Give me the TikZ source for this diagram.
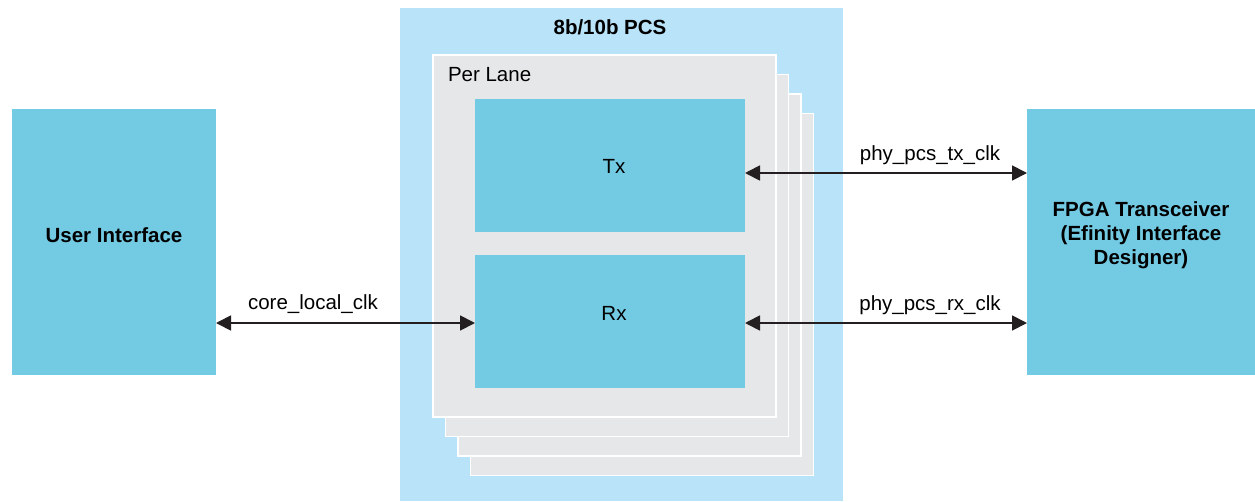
\documentclass[tikz,border=0pt]{standalone}
\usepackage{fontspec}
\setmainfont{Liberation Sans}
\usetikzlibrary{arrows.meta}
\definecolor{pcsblue}{HTML}{B9E3F8}
\definecolor{boxblue}{HTML}{73CAE3}
\definecolor{lanegray}{HTML}{E6E7E8}
\definecolor{arrowdark}{HTML}{231F20}
\begin{document}
\begin{tikzpicture}[x=1pt,y=-1pt,
  every node/.style={font=\fontsize{20.5}{24}\selectfont, inner sep=0pt, outer sep=0pt},
  bluebox/.style={fill=boxblue, draw=none, minimum width=#1},
  lanebox/.style={fill=lanegray, draw=white, line width=1.6pt, minimum width=343pt, minimum height=362pt},
  arr/.style={draw=arrowdark, line width=1.8pt, {Triangle[length=15pt,width=15pt]}-{Triangle[length=15pt,width=15pt]}},
  boldtext/.style={font=\fontsize{20.5}{24}\selectfont\bfseries, align=center}
]
\useasboundingbox (0,0) rectangle (1255,501);
\fill[white] (0,0) rectangle (1255,501);
% PCS background
\node[fill=pcsblue, minimum width=443pt, minimum height=493pt] (pcs) at (621.5,254.5) {};
\node[boldtext] (pcslbl) at (610,27) {8b/10b PCS};
% lanes (back to front)
\node[lanebox] (lane4) at (642,294.5) {};
\node[lanebox] (lane3) at (629.5,275) {};
\node[lanebox] (lane2) at (617,255.5) {};
\node[lanebox] (lane1) at (604.5,236) {};
\node[anchor=west] (perlane) at (448,75) {Per Lane};
% Tx / Rx
\node[bluebox=270pt, minimum height=133pt] (tx) at (610,165.5) {};
\node (txtext) at (614,166) {Tx};
\node[bluebox=270pt, minimum height=133pt] (rx) at (610,321.5) {};
\node (rxtext) at (614,313) {Rx};
% side boxes
\node[bluebox=204pt, minimum height=266pt] (ui) at (114,242) {};
\node[boldtext] (uitext) at (114,235) {User Interface};
\node[bluebox=228pt, minimum height=266pt] (fpga) at (1141,242) {};
\node[boldtext] (fpgatext) at (1141,235) {FPGA Transceiver\\(Efinity Interface\\Designer)};
% connectors
\coordinate (txa) at ([yshift=-7.5pt]tx.east);
\draw[arr] (txa) -- (txa -| fpga.west);
\coordinate (rxa) at ([yshift=-1.5pt]rx.east);
\draw[arr] (rxa) -- (rxa -| fpga.west);
\coordinate (ca) at ([yshift=-1.5pt]rx.west);
\draw[arr] (ca -| ui.east) -- (ca);
% labels
\node (txlbl) at (930,155) {phy\_pcs\_tx\_clk};
\node (rxlbl) at (930,305) {phy\_pcs\_rx\_clk};
\node (clbl) at (313,304) {core\_local\_clk};
\end{tikzpicture}
\end{document}
